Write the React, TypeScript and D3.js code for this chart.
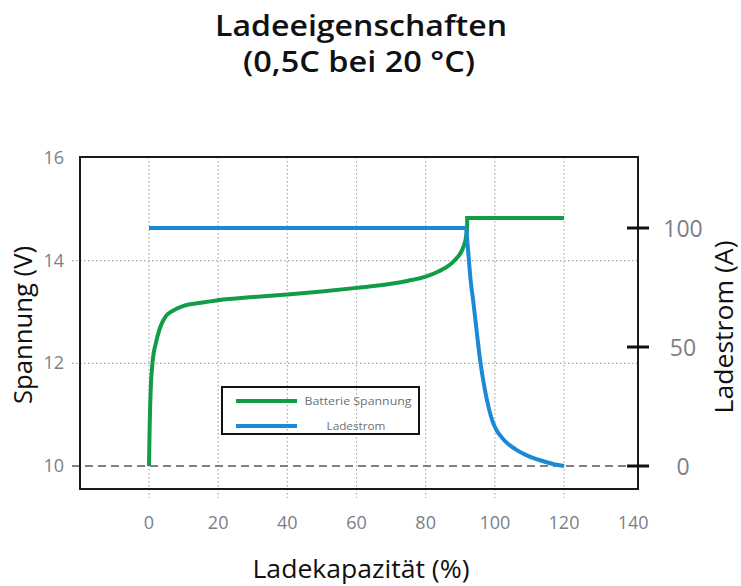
import React from "react";
import * as d3 from "d3";

// Charge capacity (%) vs. battery voltage (V) — constant-current phase
const voltageCurve: [number, number][] = [
  [0, 10], [0.2, 10.8], [0.5, 11.5], [1, 12.0], [2, 12.4], [3, 12.65], [4, 12.82],
  [5, 12.93], [7, 13.03], [10, 13.12], [15, 13.18], [20, 13.23], [30, 13.29],
  [40, 13.34], [50, 13.4], [60, 13.47], [70, 13.55], [75, 13.61], [80, 13.69],
  [84, 13.8], [87, 13.92], [89, 14.05], [90.5, 14.2], [91.5, 14.4], [92, 14.62],
];
// Constant-voltage phase
const voltagePlateau: [number, number][] = [
  [92, 14.62], [92, 14.83], [120, 14.83],
];
// Charge capacity (%) vs. charge current (A)
const current: [number, number][] = [
  [0, 100], [91.6, 100], [92.3, 90], [93, 78], [93.7, 70], [94.8, 56], [95.7, 45],
  [97, 33], [98.3, 24], [99.3, 19], [100.5, 15], [102, 12], [103.5, 9.7],
  [106, 7], [108.5, 5], [111, 3.4], [114, 2], [117, 0.8], [120, 0],
];

const xTicks = [0, 20, 40, 60, 80, 100, 120, 140];
const xGrid = [0, 20, 40, 60, 80, 100, 120];
const yTicks = [10, 12, 14, 16];
const yGrid = [12, 14];
const y2Ticks = [0, 50, 100];

const legendItems = [
  { label: "Batterie Spannung", color: "#119c46" },
  { label: "Ladestrom", color: "#1a8ad6" },
];

const GREEN = "#119c46";
const BLUE = "#1a8ad6";
const TICK_GREY = "#7a7f88";
const FONT = "'Open Sans', 'Noto Sans', sans-serif";

export default function App() {
  const W = 741;
  const H = 586;
  const frame = { left: 80, top: 157, right: 638, bottom: 489 };

  const x = d3.scaleLinear().domain([0, 120]).range([149, 564]);
  const y = d3.scaleLinear().domain([10, 16]).range([466, 158]);
  const y2 = d3.scaleLinear().domain([0, 100]).range([466, 228]);

  const vLine = d3
    .line<[number, number]>()
    .x((d) => x(d[0]))
    .y((d) => y(d[1]))
    .curve(d3.curveMonotoneX);
  const vStep = d3
    .line<[number, number]>()
    .x((d) => x(d[0]))
    .y((d) => y(d[1]));
  const iLine = d3
    .line<[number, number]>()
    .x((d) => x(d[0]))
    .y((d) => y2(d[1]))
    .curve(d3.curveMonotoneX);

  const legend = { x: 222, y: 387, w: 197, h: 47 };

  return (
    <svg width={W} height={H} style={{ display: "block", position: "absolute", left: 0, top: 0 }}>
      <rect width={W} height={H} fill="#fff" />

      {/* Title */}
      <text x={361} y={36} textAnchor="middle" fontFamily={FONT} fontWeight={600} fontSize={28} fill="#111" textLength={292} lengthAdjust="spacingAndGlyphs">
        Ladeeigenschaften
      </text>
      <text x={359} y={72} textAnchor="middle" fontFamily={FONT} fontWeight={600} fontSize={28} fill="#111" textLength={232} lengthAdjust="spacingAndGlyphs">
        (0,5C bei 20 °C)
      </text>

      {/* Grid */}
      {yGrid.map((v) => (
        <line key={"hg" + v} x1={72} x2={frame.right} y1={y(v)} y2={y(v)} stroke="#a8a8a8" strokeWidth={1.2} strokeDasharray="1.5 2.5" />
      ))}
      {xGrid.map((v) => (
        <line key={"vg" + v} x1={x(v)} x2={x(v)} y1={frame.top} y2={498} stroke="#a8a8a8" strokeWidth={1.2} strokeDasharray="1.5 2.5" />
      ))}

      {/* Baseline at 10 V / 0 A */}
      <line x1={72} x2={648} y1={y(10)} y2={y(10)} stroke="#808080" strokeWidth={2.2} strokeDasharray="8 5" />

      {/* Frame */}
      <rect x={frame.left} y={frame.top} width={frame.right - frame.left} height={frame.bottom - frame.top} fill="none" stroke="#1a1a1a" strokeWidth={2} />

      {/* Series */}
      <path d={vLine(voltageCurve) ?? ""} fill="none" stroke={GREEN} strokeWidth={4} strokeLinejoin="round" />
      <path d={vStep(voltagePlateau) ?? ""} fill="none" stroke={GREEN} strokeWidth={4} strokeLinejoin="miter" />
      <path d={iLine(current) ?? ""} fill="none" stroke={BLUE} strokeWidth={4} strokeLinejoin="round" />

      {/* Left axis labels */}
      {yTicks.map((v) => (
        <text key={"yl" + v} x={64} y={y(v) + 6} textAnchor="end" fontFamily={FONT} fontSize={18} fill={TICK_GREY}>
          {v}
        </text>
      ))}

      {/* Right axis ticks and labels */}
      {y2Ticks.map((v) => (
        <g key={"y2" + v}>
          <line x1={627} x2={649} y1={y2(v)} y2={y2(v)} stroke="#111" strokeWidth={3} />
          <text x={683} y={y2(v) + 8.5} textAnchor="middle" fontFamily={FONT} fontSize={23} fill={TICK_GREY}>
            {v}
          </text>
        </g>
      ))}

      {/* Bottom axis labels */}
      {xTicks.map((v) => (
        <text key={"xl" + v} x={x(v)} y={529} textAnchor="middle" fontFamily={FONT} fontSize={18} fill={TICK_GREY}>
          {v}
        </text>
      ))}

      {/* Axis titles */}
      <text x={361} y={578} textAnchor="middle" fontFamily={FONT} fontSize={26} fill="#111" textLength={217} lengthAdjust="spacingAndGlyphs">
        Ladekapazität (%)
      </text>
      <text transform="translate(32,325) rotate(-90)" textAnchor="middle" fontFamily={FONT} fontSize={25} fill="#111" textLength={158} lengthAdjust="spacingAndGlyphs">
        Spannung (V)
      </text>
      <text transform="translate(733,327) rotate(-90)" textAnchor="middle" fontFamily={FONT} fontSize={25} fill="#111" textLength={173} lengthAdjust="spacingAndGlyphs">
        Ladestrom (A)
      </text>

      {/* Legend */}
      <rect x={legend.x} y={legend.y} width={legend.w} height={legend.h} fill="none" stroke="#111" strokeWidth={2} />
      {legendItems.map((it, i) => (
        <g key={it.label}>
          <line x1={236} x2={297} y1={401 + i * 25} y2={401 + i * 25} stroke={it.color} strokeWidth={4} />
          <text x={i === 0 ? 358 : 356} y={405 + i * 25} textAnchor="middle" fontFamily={FONT} fontSize={11.5} fill="#6b6f78" textLength={i === 0 ? 107 : 59} lengthAdjust="spacingAndGlyphs">
            {it.label}
          </text>
        </g>
      ))}
    </svg>
  );
}
